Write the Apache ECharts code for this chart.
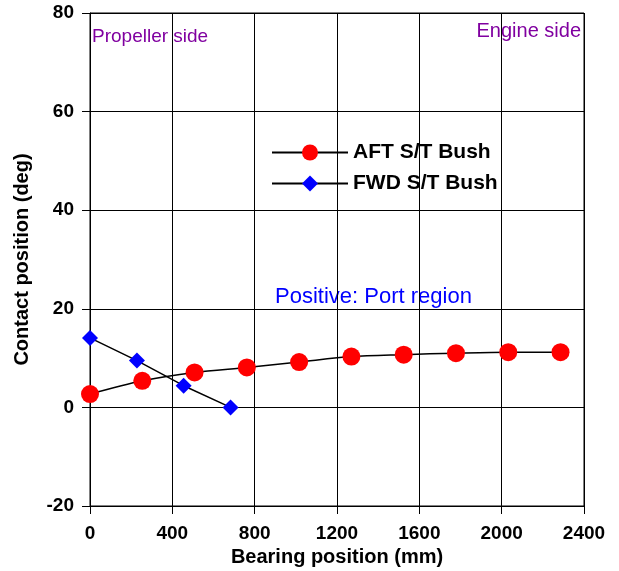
<!DOCTYPE html>
<html>
<head>
<meta charset="utf-8">
<script src="https://cdn.jsdelivr.net/npm/echarts@6/dist/echarts.min.js"></script>
<style>html,body{margin:0;padding:0;background:#fff}#c{width:619px;height:571px}</style>
</head>
<body>
<div id="c"></div>
<script>
const aftX = [0, 254, 508, 762, 1016, 1270, 1524, 1778, 2032, 2286];
const aftY = [2.7, 5.4, 7.1, 8.1, 9.2, 10.3, 10.7, 11.0, 11.2, 11.2];
const fwdX = [0, 228, 455, 683];
const fwdY = [14.1, 9.5, 4.4, 0.0];
const xTicks = [0, 400, 800, 1200, 1600, 2000, 2400];
const yTicks = [-20, 0, 20, 40, 60, 80];
const seriesNames = ['AFT S/T Bush', 'FWD S/T Bush'];

const FONT = 'Arial, "Liberation Sans", sans-serif';
const chart = echarts.init(document.getElementById('c'), null, {renderer: 'canvas'});
chart.setOption({
  animation: false,
  backgroundColor: '#fff',
  grid: {left: 90, right: 35, top: 13, bottom: 65, show: true, borderColor: '#000', borderWidth: 1,
    containLabel: false, outerBoundsMode: 'none'},
  legend: {
    left: 266, top: 137, orient: 'vertical', itemWidth: 76, itemHeight: 20, itemGap: 10,
    textStyle: {fontFamily: FONT, fontWeight: 'bold', fontSize: 21, color: '#000'},
    data: seriesNames
  },
  xAxis: {
    type: 'value', min: xTicks[0], max: xTicks[xTicks.length - 1], interval: 400,
    name: 'Bearing position (mm)', nameLocation: 'middle', nameGap: 37,
    nameTextStyle: {fontFamily: FONT, fontWeight: 'bold', fontSize: 20, color: '#000'},
    axisLine: {onZero: false, lineStyle: {color: '#000'}},
    axisTick: {show: true, length: 8, lineStyle: {color: '#000'}},
    axisLabel: {fontFamily: FONT, fontWeight: 'bold', fontSize: 19, color: '#000', margin: 18,
      formatter: v => String(v)},
    splitLine: {show: true, lineStyle: {color: '#000', width: 1}}
  },
  yAxis: {
    type: 'value', min: yTicks[0], max: yTicks[yTicks.length - 1], interval: 20,
    name: 'Contact position (deg)', nameLocation: 'middle', nameGap: 58, nameRotate: 90,
    nameTextStyle: {fontFamily: FONT, fontWeight: 'bold', fontSize: 20, color: '#000'},
    axisLine: {onZero: false, lineStyle: {color: '#000'}},
    axisTick: {show: true, length: 8, lineStyle: {color: '#000'}},
    axisLabel: {fontFamily: FONT, fontWeight: 'bold', fontSize: 19, color: '#000', margin: 16,
      formatter: v => String(v)},
    splitLine: {show: true, lineStyle: {color: '#000', width: 1}}
  },
  graphic: [
    {type: 'text', left: 92, top: 27, style: {text: 'Propeller side', fill: '#8000A0', font: '19px ' + FONT}},
    {type: 'text', right: 38, top: 21, style: {text: 'Engine side', fill: '#8000A0', font: '20px ' + FONT}},
    {type: 'text', left: 275, top: 286, style: {text: 'Positive: Port region', fill: '#0000FF', font: '22px ' + FONT}}
  ],
  series: [
    {
      name: seriesNames[0], type: 'line', data: aftX.map((x, i) => [x, aftY[i]]),
      symbol: 'circle', symbolSize: 18, smooth: 0.3,
      lineStyle: {color: '#000', width: 1.5}, itemStyle: {color: '#FF0000'}
    },
    {
      name: seriesNames[1], type: 'line', data: fwdX.map((x, i) => [x, fwdY[i]]),
      symbol: 'diamond', symbolSize: 16,
      lineStyle: {color: '#000', width: 1.5}, itemStyle: {color: '#0000FF'}, z: 3
    }
  ]
});
</script>
</body>
</html>
